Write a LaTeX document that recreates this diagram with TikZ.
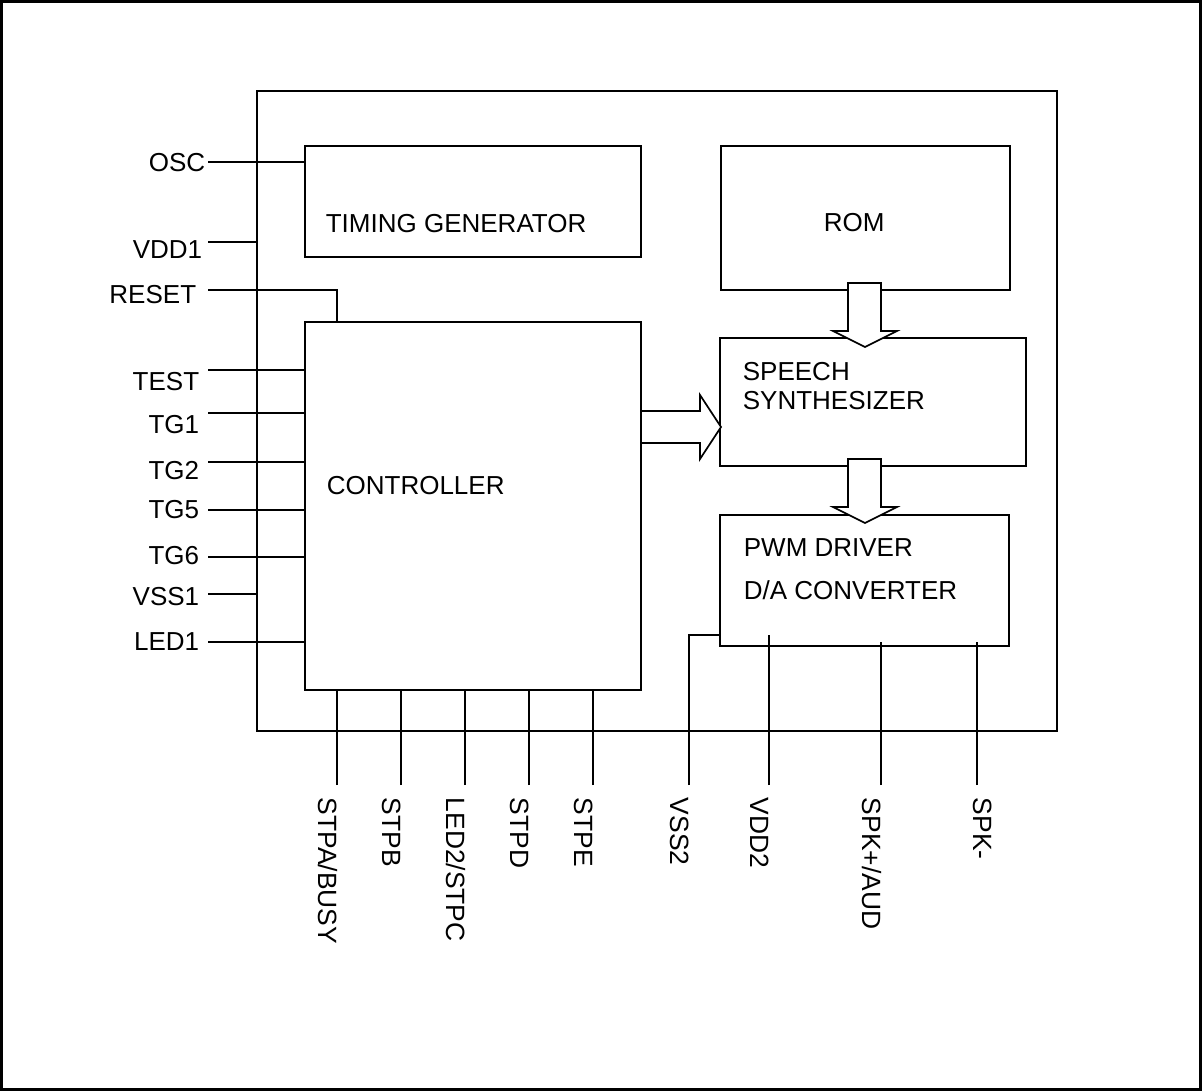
\documentclass[tikz,border=0pt]{standalone}
\usepackage{fontspec}
\setmainfont{Liberation Sans}
\usetikzlibrary{positioning,calc}

\begin{document}
\begin{tikzpicture}[x=0.5pt,y=-0.5pt,line width=0.85pt,
  blk/.style={draw,rectangle,inner sep=0pt,outer sep=0pt},
  txt/.style={inner sep=0pt,anchor=base west,font=\fontsize{13}{15}\selectfont},
  lpin/.style={inner sep=0pt,anchor=base east,font=\fontsize{13}{15}\selectfont},
  bpin/.style={inner sep=0pt,anchor=base west,rotate=-90,font=\fontsize{13.2}{15}\selectfont},
  harrow/.style={draw,fill=white,line join=miter}]
  \useasboundingbox (0,0) rectangle (1202,1091);
  % Frame
  \draw[line width=1.1pt] (1.5,1.5) rectangle (1200.5,1089.5);
  % Chip outline
  \node[blk,minimum width=400pt,minimum height=320pt] (chip) at (657,411) {};
  % Blocks
  \node[blk,minimum width=168pt,minimum height=55.5pt] (tg) at (473,201.5) {};
  \node[blk,minimum width=144.5pt,minimum height=72pt] (rom) at (865.5,218) {};
  \node[blk,minimum width=153pt,minimum height=64pt] (speech) at (873,402) {};
  \node[blk,minimum width=144.5pt,minimum height=65.5pt] (pwm) at (864.5,580.5) {};
  \node[blk,minimum width=168pt,minimum height=184pt] (ctrl) at (473,506) {};
  % Block texts
  \node[txt] (tgtxt) at (325,232) {TIMING GENERATOR};
  \node[txt] (romtxt) at (823,231) {ROM};
  \node[txt] (sptxta) at (742,380) {SPEECH};
  \node[txt] (sptxtb) at (742,409) {SYNTHESIZER};
  \node[txt] (ctrltxt) at (326,494) {CONTROLLER};
  \node[txt] (pwmtxta) at (743,556) {PWM DRIVER};
  \node[txt] (pwmtxtb) at (743,599) {D/A CONVERTER};
  % Hollow arrows
  \draw[harrow] ([xshift=-8.75pt,yshift=3.5pt]rom.south) -- ++(0,48) -- ++(-15,0)
    -- ++(32,16) -- ++(32,-16) -- ++(-16,0) -- ++(0,-48) -- cycle;
  \coordinate (sa) at (rom.south |- speech.south);
  \draw[harrow] ([xshift=-8.75pt,yshift=3.5pt]sa) -- ++(0,48) -- ++(-15,0)
    -- ++(32,16) -- ++(32,-16) -- ++(-16,0) -- ++(0,-48) -- cycle;
  \coordinate (ca) at (ctrl.east |- speech.west);
  \draw[harrow] ([yshift=-4.5pt]ca) -- ++(59,0) -- ++(0,-16) -- ++(21,32)
    -- ++(-21,32) -- ++(0,-16) -- ++(-59,0) -- cycle;
  % Left pins
  \coordinate (posc) at (208,162);
  \node[lpin] (losc) at (206,172) {OSC};
  \draw (posc) -- (tg.west |- posc);
  \coordinate (pvdda) at (208,242);
  \node[lpin] (lvdda) at (203,258) {VDD1};
  \draw (pvdda) -- (chip.west |- pvdda);
  \coordinate (preset) at (208,290);
  \node[lpin] (lreset) at (197,303) {RESET};
  \draw (preset) -| ([xshift=16pt]ctrl.north west);
  \foreach \nm/\yl/\yb in {TEST/370/390, TGa/413/433, TGb/462/479, TGc/510/518, TGd/557/564, LED/642/650} {
    \coordinate (p\nm) at (208,\yl);
    \draw (p\nm) -- (ctrl.west |- p\nm);
  }
  \node[lpin] (lTEST) at (200,390) {TEST};
  \node[lpin] (lTGa) at (200,433) {TG1};
  \node[lpin] (lTGb) at (200,479) {TG2};
  \node[lpin] (lTGc) at (200,518) {TG5};
  \node[lpin] (lTGd) at (200,564) {TG6};
  \node[lpin] (lLED) at (200,650) {LED1};
  \coordinate (pvssa) at (208,594);
  \node[lpin] (lvssa) at (200,605) {VSS1};
  \draw (pvssa) -- (chip.west |- pvssa);
  % Bottom pins of controller
  \foreach \nm/\xx/\txt in {a/337/{STPA/BUSY}, b/401/STPB, c/465/{LED2/STPC}, d/529/STPD, e/593/STPE} {
    \coordinate (p\nm) at (\xx,785);
    \draw (p\nm) -- (ctrl.south -| p\nm);
    \node[bpin] (l\nm) at ([xshift=-9.5pt,yshift=-6pt]p\nm) {\txt};
  }
  % Bottom pins of PWM driver
  \coordinate (pwmin) at ([yshift=5.5pt]pwm.south west);
  \coordinate (pwmpk) at ([yshift=2pt]pwm.south west);
  \coordinate (pvssb) at (689,785);
  \coordinate (pvddb) at (769,785);
  \coordinate (pspkp) at (881,785);
  \coordinate (pspkm) at (977,785);
  \draw (pvssb) |- (pwmin);
  \draw (pvddb) -- (pvddb |- pwmin);
  \draw (pspkp) -- (pspkp |- pwmpk);
  \draw (pspkm) -- (pspkm |- pwmpk);
  \node[bpin] (lvssb) at ([xshift=-9.5pt,yshift=-6pt]pvssb) {VSS2};
  \node[bpin] (lvddb) at ([xshift=-9.5pt,yshift=-6pt]pvddb) {VDD2};
  \node[bpin] (lspkp) at ([xshift=-9.5pt,yshift=-6pt]pspkp) {SPK+/AUD};
  \node[bpin] (lspkm) at ([xshift=-2pt,yshift=-6pt]pspkm) {SPK-};
\end{tikzpicture}
\end{document}
